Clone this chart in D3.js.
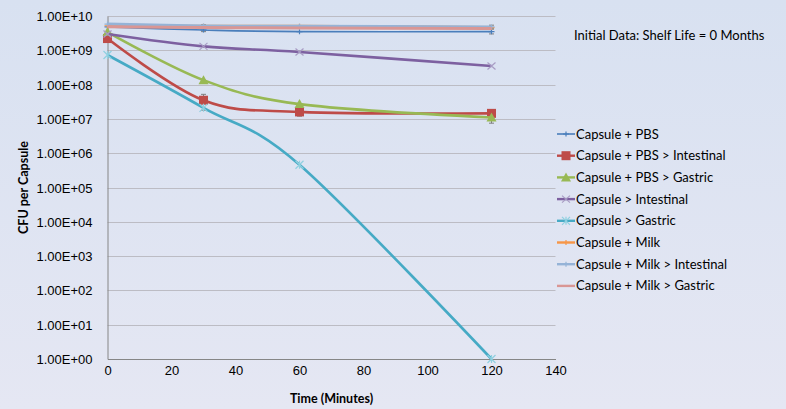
<!DOCTYPE html>
<html>
<head>
<meta charset="utf-8">
<script src="https://cdn.jsdelivr.net/npm/d3@7"></script>
<style>
  body { margin: 0; }
  svg { display: block; font-family: Lato, "Open Sans", sans-serif; }
</style>
</head>
<body>
<svg id="chart" width="786" height="409"></svg>
<script>
// time points (minutes)
const times = [0, 30, 60, 120]

const seriesNames = [
    'Capsule + PBS',
    'Capsule + PBS > Intestinal',
    'Capsule + PBS > Gastric',
    'Capsule > Intestinal',
    'Capsule > Gastric',
    'Capsule + Milk',
    'Capsule + Milk > Intestinal',
    'Capsule + Milk > Gastric'
]

// CFU per capsule, one array per series
const pbs = [4.8e9, 3.9e9, 3.5e9, 3.5e9]
const pbsIntestinal = [2.2e9, 3.5e7, 1.6e7, 1.45e7]
const pbsGastric = [3.4e9, 1.35e8, 2.7e7, 1.1e7]
const capIntestinal = [3.0e9, 1.3e9, 8.9e8, 3.5e8]
const capGastric = [7.3e8, 2.1e7, 4.6e5, 1]
const milk = [5.2e9, 5.0e9, 5.0e9, 4.6e9]
const milkIntestinal = [5.8e9, 5.1e9, 5.0e9, 4.8e9]
const milkGastric = [4.9e9, 4.6e9, 4.5e9, 4.3e9]

const seriesValues = [pbs, pbsIntestinal, pbsGastric, capIntestinal, capGastric, milk, milkIntestinal, milkGastric]

// error bars: [series index, time index, low, high]
const errorBars = [
    [0, 1, 3.5e9, 5.2e9],
    [0, 3, 3.0e9, 4.2e9],
    [1, 1, 1.8e7, 5.2e7],
    [1, 2, 1.2e7, 2.0e7],
    [1, 3, 1.2e7, 1.7e7],
    [2, 3, 7.5e6, 1.4e7],
    [5, 1, 4.4e9, 5.6e9],
    [5, 3, 4.2e9, 5.4e9]
]

const yTicks = d3.range(0, 11).map(e => Math.pow(10, e))
const xTicks = [0, 20, 40, 60, 80, 100, 120, 140]

const colors = ['#4a7ebb', '#be4b48', '#98b954', '#7d60a0', '#46aac5', '#f79646', '#95b3d7', '#d99694']
const widths = [1.6, 2.6, 2.6, 2.6, 2.6, 3, 3, 3]
const markers = ['plus', 'square', 'triangle', 'x', 'star', 'plus', 'plus', 'none']

const svg = d3.select('#chart')

// background gradient
const defs = svg.append('defs')
const grad = defs.append('linearGradient').attr('id', 'bg').attr('x1', 0).attr('y1', 0).attr('x2', 0).attr('y2', 1)
grad.append('stop').attr('offset', '0%').attr('stop-color', '#d8e1f1')
grad.append('stop').attr('offset', '100%').attr('stop-color', '#e5e7f3')
svg.append('rect').attr('width', 786).attr('height', 409).attr('fill', 'url(#bg)')

const x = d3.scaleLinear().domain([0, 140]).range([107.5, 555.5])
const y = d3.scaleLog().domain([1, 1e10]).range([359, 16])

// gridlines
svg.append('g')
    .selectAll('line')
    .data(yTicks.slice(1))
    .enter()
    .append('line')
    .attr('x1', x(0)).attr('x2', x(140))
    .attr('y1', d => Math.round(y(d)) + 0.5).attr('y2', d => Math.round(y(d)) + 0.5)
    .style('stroke', '#bcbcc4')
    .style('stroke-width', 1)

// y axis
const yAxis = svg.append('g')
    .attr('transform', `translate(${x(0)},0)`)
    .call(d3.axisLeft(y).tickValues(yTicks).tickSize(0).tickPadding(15)
        .tickFormat(d => '1.00E+' + String(Math.round(Math.log10(d))).padStart(2, '0')))
yAxis.select('.domain').style('stroke', '#868686')
yAxis.selectAll('text').style('font-size', '13px').style('fill', '#000').attr('dy', '0.35em')

// x axis
const xAxis = svg.append('g')
    .attr('transform', `translate(0,${y(1)})`)
    .call(d3.axisBottom(x).tickValues(xTicks).tickSize(0).tickPadding(15))
xAxis.select('.domain').style('stroke', '#868686')
xAxis.selectAll('text').style('font-size', '13px').style('fill', '#000').attr('dy', '0.1em')

svg.append('text')
    .attr('x', (x(0) + x(140)) / 2).attr('y', 403)
    .attr('text-anchor', 'middle')
    .style('font-size', '12.5px').style('font-weight', 'bold')
    .text('Time (Minutes)')

svg.append('text')
    .attr('transform', `translate(28,${(y(1) + y(1e10)) / 2}) rotate(-90)`)
    .attr('text-anchor', 'middle')
    .style('font-size', '12.5px').style('font-weight', 'bold')
    .text('CFU per Capsule')

svg.append('text')
    .attr('x', 574).attr('y', 40)
    .style('font-size', '13px')
    .text('Initial Data: Shelf Life = 0 Months')

// error bars
const eb = svg.append('g')
errorBars.forEach(([s, i, lo, hi]) => {
    const cx = x(times[i])
    eb.append('line').attr('x1', cx).attr('x2', cx).attr('y1', y(lo)).attr('y2', y(hi))
        .style('stroke', '#7f7f7f').style('stroke-width', 1)
    ;[lo, hi].forEach(v => {
        eb.append('line').attr('x1', cx - 2.5).attr('x2', cx + 2.5).attr('y1', y(v)).attr('y2', y(v))
            .style('stroke', '#7f7f7f').style('stroke-width', 1)
    })
})

function drawMarker(g, type, cx, cy, color) {
    if (type === 'square') {
        g.append('rect').attr('x', cx - 4.5).attr('y', cy - 4.5).attr('width', 9).attr('height', 9).style('fill', color)
    } else if (type === 'triangle') {
        g.append('path').attr('d', `M${cx},${cy - 5}L${cx + 5},${cy + 4}L${cx - 5},${cy + 4}Z`).style('fill', color)
    } else if (type === 'x') {
        g.append('path').attr('d', `M${cx - 4},${cy - 3.5}L${cx + 4},${cy + 3.5}M${cx - 4},${cy + 3.5}L${cx + 4},${cy - 3.5}`)
            .style('stroke', '#a89cc4').style('stroke-width', 1.2).style('fill', 'none')
    } else if (type === 'star') {
        g.append('path').attr('d', `M${cx - 4},${cy - 4}L${cx + 4},${cy + 4}M${cx - 4},${cy + 4}L${cx + 4},${cy - 4}M${cx},${cy - 4}L${cx},${cy + 4}`)
            .style('stroke', '#8fd0e0').style('stroke-width', 1.2).style('fill', 'none')
    } else if (type === 'plus') {
        g.append('path').attr('d', `M${cx - 3},${cy}L${cx + 3},${cy}M${cx},${cy - 2.5}L${cx},${cy + 2.5}`)
            .style('stroke', color).style('stroke-width', 1.2).style('fill', 'none')
    }
}

const line = d3.line()
    .x((d, i) => x(times[i]))
    .y(d => y(d))
    .curve(d3.curveCardinal.tension(0))

// draw series in order; milk > gastric ends up on top, like the reference
seriesValues.forEach((vals, s) => {
    const g = svg.append('g')
    g.append('path')
        .datum(vals)
        .attr('d', line)
        .style('fill', 'none')
        .style('stroke', colors[s])
        .style('stroke-width', widths[s])
        .style('stroke-linejoin', 'round')
    vals.forEach((v, i) => drawMarker(g, markers[s], x(times[i]), y(v), colors[s]))
})

// legend
const legend = svg.append('g')
seriesNames.forEach((name, s) => {
    const ly = 134 + s * 21.7
    legend.append('line').attr('x1', 557).attr('x2', 575).attr('y1', ly).attr('y2', ly)
        .style('stroke', colors[s]).style('stroke-width', Math.min(widths[s], 2.4))
    drawMarker(legend, markers[s], 566, ly, colors[s])
    legend.append('text').attr('x', 576).attr('y', ly).attr('dy', '0.35em')
        .style('font-size', '13px')
        .text(name)
})
</script>
</body>
</html>
